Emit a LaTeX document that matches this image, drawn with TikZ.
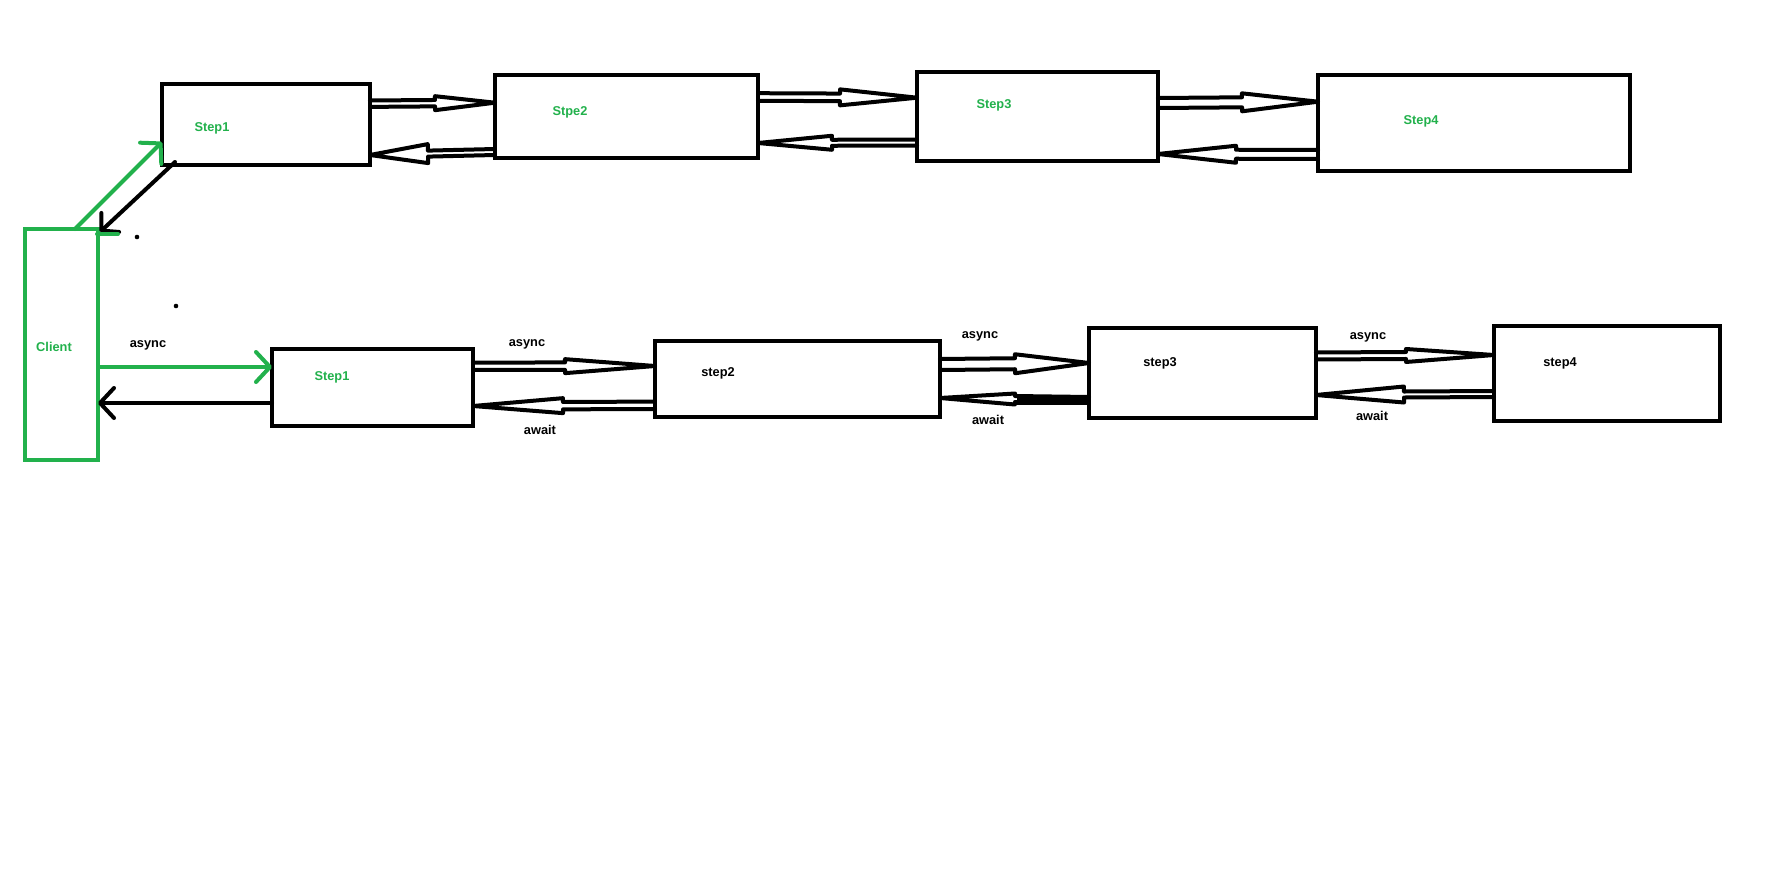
\documentclass[tikz,border=0pt]{standalone}
\usepackage{fontspec}
\setmainfont{Liberation Sans}
\usetikzlibrary{calc,arrows.meta}
\definecolor{pgreen}{HTML}{22B14C}
\tikzset{
  hlen/.store in=\hlen, hwid/.store in=\hwid, hgap/.store in=\hgap,
  hlen=60, hwid=8, hgap=3.5,
  % outlined double-shaft arrow with a hollow triangular head
  hollow/.style={draw=black, line width=4pt, line join=round, line cap=round,
    to path={(\tikztostart) coordinate (hS) (\tikztotarget) coordinate (hT)
      ($(hT)!\hlen pt!(hS)$) coordinate (hB)
      ($(hS)!\hgap pt!90:(hT)$) -- ($(hB)!\hgap pt!-90:(hS)$)
      -- ($(hB)!\hwid pt!-90:(hS)$) -- (hT) -- ($(hB)!\hwid pt!90:(hS)$)
      -- ($(hB)!\hgap pt!90:(hS)$) -- ($(hS)!\hgap pt!-90:(hT)$)}},
  stepbox/.style={draw=black, line width=4pt, inner sep=0pt, outer sep=0pt},
  clientbox/.style={draw=pgreen, line width=4pt, inner sep=0pt, outer sep=0pt},
  lbl/.style={font=\fontsize{12.8}{15}\selectfont\bfseries, inner sep=0pt},
  glbl/.style={lbl, text=pgreen},
  gline/.style={draw=pgreen, line width=4pt, line cap=round, line join=round},
  bline/.style={draw=black, line width=4pt, line cap=round, line join=round},
  vtip/.style={-{Straight Barb[length=14pt, width=30pt, round]}},
}
\begin{document}
\begin{tikzpicture}[x=1pt, y=-1pt]
\fill[white] (0,0) rectangle (1773,872);
\useasboundingbox (0,0) rectangle (1773,872);

% synchronous chain
\node[stepbox, minimum width=208pt, minimum height=81pt] (t1) at (266,124.5) {};
\node[stepbox, minimum width=263pt, minimum height=83pt] (t2) at (626.5,116.5) {};
\node[stepbox, minimum width=241pt, minimum height=89pt] (t3) at (1037.5,116.5) {};
\node[stepbox, minimum width=312pt, minimum height=96pt] (t4) at (1474,123) {};
\node[glbl] (t1l) at (212,128) {Step1};
\node[glbl] (t2l) at (570,112) {Stpe2};
\node[glbl] (t3l) at (994,105) {Step3};
\node[glbl] (t4l) at (1421,121) {Step4};

% client
\node[clientbox, minimum width=73pt, minimum height=231pt] (client) at (61.5,344.5) {};
\node[glbl] (clientl) at (54,347) {Client};

% asynchronous chain
\node[stepbox, minimum width=201pt, minimum height=77pt] (b1) at (372.5,387.5) {};
\node[stepbox, minimum width=285pt, minimum height=76pt] (b2) at (797.5,379) {};
\node[stepbox, minimum width=227pt, minimum height=90pt] (b3) at (1202.5,373) {};
\node[stepbox, minimum width=226pt, minimum height=95pt] (b4) at (1607,373.5) {};
\node[glbl] (b1l) at (332,377) {Step1};
\node[lbl] (b2l) at (718,373) {step2};
\node[lbl] (b3l) at (1160,363) {step3};
\node[lbl] (b4l) at (1560,363) {step4};

% labels on the asynchronous links
\node[lbl] (a0) at (148,345) {async};
\node[lbl] (a1) at (527,344) {async};
\node[lbl] (a2) at (980,336) {async};
\node[lbl] (a3) at (1368,337) {async};
\node[lbl] (w1) at (540,430) {await};
\node[lbl] (w2) at (988,420) {await};
\node[lbl] (w3) at (1372,416) {await};

% top row links
\draw[hollow, hlen=60, hwid=7, hgap=3.2] ($(t1.north east)+(0,19.7)$) to ($(t2.north west)+(0,27.7)$);
\draw[hollow, hlen=58, hwid=9.5, hgap=3] ($(t2.south west)+(0,-6)$) to ($(t1.south east)+(0,-10)$);
\draw[hollow, hlen=77, hwid=8, hgap=3.8] ($(t2.north east)+(0,22)$) to ($(t3.north west)+(0,25.7)$);
\draw[hollow, hlen=74, hwid=7, hgap=3] ($(t3.south west)+(0,-18.5)$) to ($(t2.south east)+(0,-15)$);
\draw[hollow, hlen=76, hwid=9, hgap=5] ($(t3.north east)+(0,31)$) to ($(t4.north west)+(0,26.7)$);
\draw[hollow, hlen=78, hwid=8.5, hgap=4.5] ($(t4.south west)+(0,-16.5)$) to ($(t3.south east)+(0,-7)$);

% bottom row links
\draw[hollow, hlen=90, hwid=7, hgap=3.7] ($(b1.north east)+(0,17.3)$) to ($(b2.north west)+(0,25)$);
\draw[hollow, hlen=90, hwid=7.5, hgap=3.7] ($(b2.south west)+(0,-11.7)$) to ($(b1.south east)+(0,-20)$);
\draw[hollow, hlen=74, hwid=9.5, hgap=5.5] ($(b2.north east)+(0,23.5)$) to ($(b3.north west)+(0,35)$);
\draw[line width=9pt] ($(b3.south west)+(0,-18)$) -- ($(b3.south west)+(-72,-18)$);
\draw[hollow, hlen=75, hwid=5.5, hgap=3] ($(b3.south west)+(0,-18)$) to ($(b2.south east)+(0,-19)$);
\draw[hollow, hlen=88, hwid=6.5, hgap=3.5] ($(b3.north east)+(0,28)$) to ($(b4.north west)+(0,29)$);
\draw[hollow, hlen=88, hwid=8, hgap=3] ($(b4.south west)+(0,-27)$) to ($(b3.south east)+(0,-23)$);

% client connections
\draw[bline, -{Straight Barb[length=12pt, width=26pt, round]}] ($(t1.south west)+(13,-3)$) -- ($(client.north east)+(2,3)$);
\draw[gline, vtip] ($(client.north west)+(50,0)$) -- ($(t1.south west)+(0,-23)$);
\draw[gline] ($(client.north east)+(-1,5)$) -- ($(client.north east)+(20,5)$);
\draw[gline, vtip] ($(client.north east)+(0,138)$) -- ($(b1.north west)+(0,18)$);
\draw[bline, vtip] ($(b1.south west)+(0,-23)$) -- ($(client.north east)+(0,174)$);

% dots
\fill (137,237) circle (2.3);
\fill (176,306) circle (2.3);
\end{tikzpicture}
\end{document}
